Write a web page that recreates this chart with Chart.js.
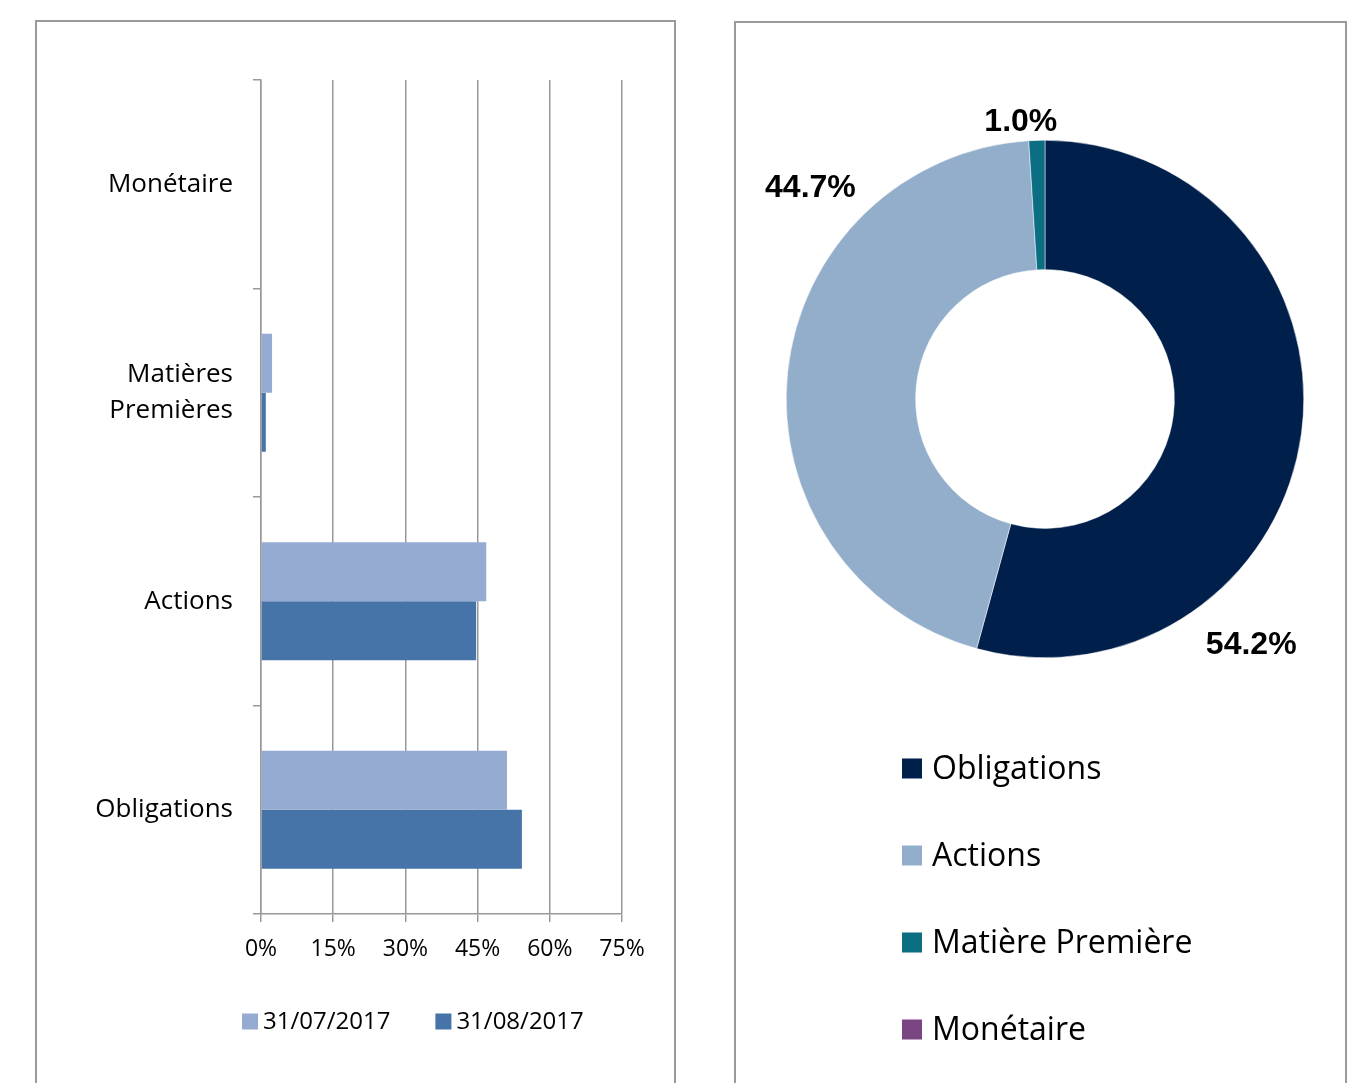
<!DOCTYPE html>
<html>
<head>
<meta charset="utf-8">
<script src="https://cdn.jsdelivr.net/npm/chart.js@4/dist/chart.umd.min.js"></script>
<style>
html, body { margin: 0; padding: 0; background: #fff; width: 1358px; height: 1083px; overflow: hidden; }
.panel { position: absolute; border: 2px solid #9a9a9a; box-sizing: border-box; }
#p1 { left: 35px; top: 20px; width: 641px; height: 1100px; }
#p2 { left: 734px; top: 21px; width: 613px; height: 1100px; }
canvas { position: absolute; }
#bars { left: 37px; top: 21px; }
#donut { left: 736px; top: 23px; }
</style>
</head>
<body>
<div class="panel" id="p1"></div>
<div class="panel" id="p2"></div>
<canvas id="bars" width="636" height="1062"></canvas>
<canvas id="donut" width="608" height="1060"></canvas>
<script>
// bar chart data
var categories = ['Monétaire', ['Matières', 'Premières'], 'Actions', 'Obligations'];
var seriesNames = ['31/07/2017', '31/08/2017'];
var julyValues = [0, 2.3, 46.8, 51.1];
var augustValues = [0, 1.0, 44.7, 54.2];
var xTicks = [0, 15, 30, 45, 60, 75];

// doughnut data
var pieLabels = ['Obligations', 'Actions', 'Matière Première', 'Monétaire'];
var pieValues = [54.2, 44.7, 1.0, 0];

// where the % labels sit round the ring (screen degrees, radius factor)
var pieLabelAngles = [50, -138, -95];
var pieLabelDist = [1.24, 1.22, 1.073];

// legend drawn as boxes + text at a fixed spot
var boxLegend = {
    id: 'boxLegend',
    afterDraw: function(chart, args, opts) {
        var ctx = chart.ctx;
        var items = chart.options.plugins.legend.labels.generateLabels(chart);
        var x = opts.x, y = opts.y;
        ctx.save();
        ctx.font = opts.font;
        ctx.textBaseline = 'middle';
        ctx.textAlign = 'left';
        items.forEach(function(item) {
            ctx.fillStyle = item.fillStyle;
            ctx.fillRect(x, y - opts.box / 2, opts.box, opts.box);
            ctx.fillStyle = '#000';
            ctx.fillText(item.text, x + opts.box + opts.gap, y + 1);
            if (opts.vertical) {
                y += opts.step;
            } else {
                x += opts.box + opts.gap + ctx.measureText(item.text).width + opts.step;
            }
        });
        ctx.restore();
    }
};

var pieValueLabels = {
    id: 'pieValueLabels',
    afterDatasetsDraw: function(chart) {
        var ctx = chart.ctx;
        var meta = chart.getDatasetMeta(0);
        ctx.save();
        ctx.font = 'bold 32px "Liberation Sans", Arial, sans-serif';
        ctx.fillStyle = '#000';
        ctx.textAlign = 'center';
        ctx.textBaseline = 'middle';
        meta.data.forEach(function(arc, i) {
            var v = pieValues[i];
            if (!v) return;
            var a = pieLabelAngles[i] * Math.PI / 180;
            var r = arc.outerRadius * pieLabelDist[i];
            ctx.fillText(v.toFixed(1) + '%', arc.x + Math.cos(a) * r, arc.y + Math.sin(a) * r);
        });
        ctx.restore();
    }
};

var gridGrey = '#999999';

new Chart(document.getElementById('bars'), {
    type: 'bar',
    data: {
        labels: categories,
        datasets: [
            { label: seriesNames[0], data: julyValues, backgroundColor: '#95abd2' },
            { label: seriesNames[1], data: augustValues, backgroundColor: '#4673a8' }
        ]
    },
    options: {
        indexAxis: 'y',
        responsive: false,
        animation: false,
        categoryPercentage: 0.566,
        barPercentage: 1.0,
        layout: { padding: { top: 59, right: 51, bottom: 109, left: 0 } },
        scales: {
            x: {
                min: xTicks[0],
                max: xTicks[xTicks.length - 1],
                ticks: {
                    stepSize: 15,
                    maxRotation: 0,
                    padding: 14,
                    color: '#000',
                    font: { family: 'Open Sans', size: 23 },
                    callback: function(v) { return v + '%'; }
                },
                grid: { color: gridGrey, lineWidth: 1.5, tickLength: 8 },
                border: { color: gridGrey, width: 1.5 },
                afterFit: function(s) { s.height = 60; }
            },
            y: {
                ticks: {
                    padding: 20,
                    color: '#000',
                    font: { family: 'Open Sans', size: 26, lineHeight: 1.4 }
                },
                grid: { drawOnChartArea: false, color: gridGrey, lineWidth: 1.5, tickLength: 8 },
                border: { color: gridGrey, width: 1.5 },
                afterFit: function(s) { s.width = 224; }
            }
        },
        plugins: {
            legend: { display: false },
            tooltip: { enabled: false },
            boxLegend: { x: 205, y: 1000.5, box: 16, gap: 5, step: 45, vertical: false,
                         font: '24px "Open Sans"' }
        }
    },
    plugins: [boxLegend]
});

new Chart(document.getElementById('donut'), {
    type: 'doughnut',
    data: {
        labels: pieLabels,
        datasets: [{
            data: pieValues,
            backgroundColor: ['#001f4a', '#92aecb', '#0b6e82', '#7b4583'],
            borderColor: '#ffffff',
            borderWidth: 0.5
        }]
    },
    options: {
        responsive: false,
        animation: false,
        cutout: '50%',
        layout: { padding: { top: 117, right: 40, bottom: 425, left: 50 } },
        plugins: {
            legend: { display: false },
            tooltip: { enabled: false },
            boxLegend: { x: 166, y: 745.5, box: 20, gap: 10, step: 87, vertical: true,
                         font: '32px "Open Sans"' }
        }
    },
    plugins: [boxLegend, pieValueLabels]
});
</script>
</body>
</html>
